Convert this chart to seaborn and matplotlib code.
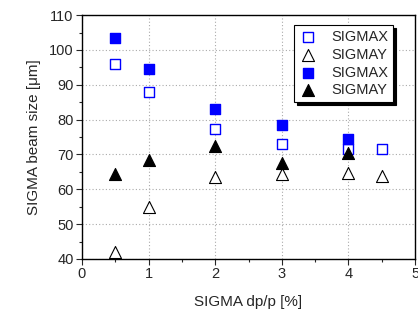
import seaborn as sns
import matplotlib.pyplot as plt
import pandas as pd
from matplotlib.ticker import MultipleLocator

# values
dpp_x = [0.5, 1, 2, 3, 4, 4.5]
sigmax_open = [96, 88, 77.3, 73, 71.5, 71.5]
sigmay_open = [42, 55, 63.5, 64.5, 64.8, 63.7]
dpp_fill = [0.5, 1, 2, 3, 4]
sigmax_fill = [103.5, 94.5, 83, 78.5, 74.5]
sigmay_fill = [64.5, 68.5, 72.5, 67.5, 70.5]

sns.set_style('ticks')
plt.rcParams['font.family'] = ['Liberation Sans', 'DejaVu Sans']

fig, ax = plt.subplots(figsize=(4.18, 3.09), dpi=100)
fig.subplots_adjust(left=0.196, right=0.993, top=0.951, bottom=0.162)

sns.scatterplot(x=dpp_x, y=sigmax_open, marker='s', s=55, facecolor='white',
                edgecolor='blue', linewidth=1, label='SIGMAX', ax=ax, zorder=3)
sns.scatterplot(x=dpp_x, y=sigmay_open, marker='^', s=75, facecolor='white',
                edgecolor='black', linewidth=0.8, label='SIGMAY', ax=ax, zorder=3)
sns.scatterplot(x=dpp_fill, y=sigmax_fill, marker='s', s=55, color='blue',
                edgecolor='blue', linewidth=1, label='SIGMAX', ax=ax, zorder=3)
sns.scatterplot(x=dpp_fill, y=sigmay_fill, marker='^', s=75, color='black',
                edgecolor='black', linewidth=0.8, label='SIGMAY', ax=ax, zorder=3)

ax.set_xlim(0, 5)
ax.set_ylim(40, 110)
ax.xaxis.set_major_locator(MultipleLocator(1))
ax.xaxis.set_minor_locator(MultipleLocator(0.5))
ax.yaxis.set_major_locator(MultipleLocator(10))
ax.yaxis.set_minor_locator(MultipleLocator(5))
ax.tick_params(which='major', direction='out', length=4, width=0.8, labelsize=10.5, pad=2)
ax.tick_params(which='minor', direction='out', length=2.5, width=0.8)
ax.grid(True, which='major', linestyle=(0, (1, 2)), color='#aaaaaa', linewidth=0.8)
for sp in ax.spines.values():
    sp.set_linewidth(1)
    sp.set_color('black')

ax.set_xlabel('SIGMA dp/p [%]', fontsize=11, labelpad=10)
ax.set_ylabel('SIGMA beam size [\u03bcm]', fontsize=11, labelpad=6)

leg = ax.legend(loc='upper right', bbox_to_anchor=(0.934, 0.959), borderaxespad=0,
                fontsize=10.5, fancybox=False, framealpha=1, edgecolor='black',
                shadow={'color': 'black', 'alpha': 1, 'ox': 2.2, 'oy': -2.2},
                handlelength=1.2, handletextpad=1.0, labelspacing=0.25, borderpad=0.35)
leg.get_frame().set_linewidth(0.8)

fig.savefig('out.png', dpi=100)
